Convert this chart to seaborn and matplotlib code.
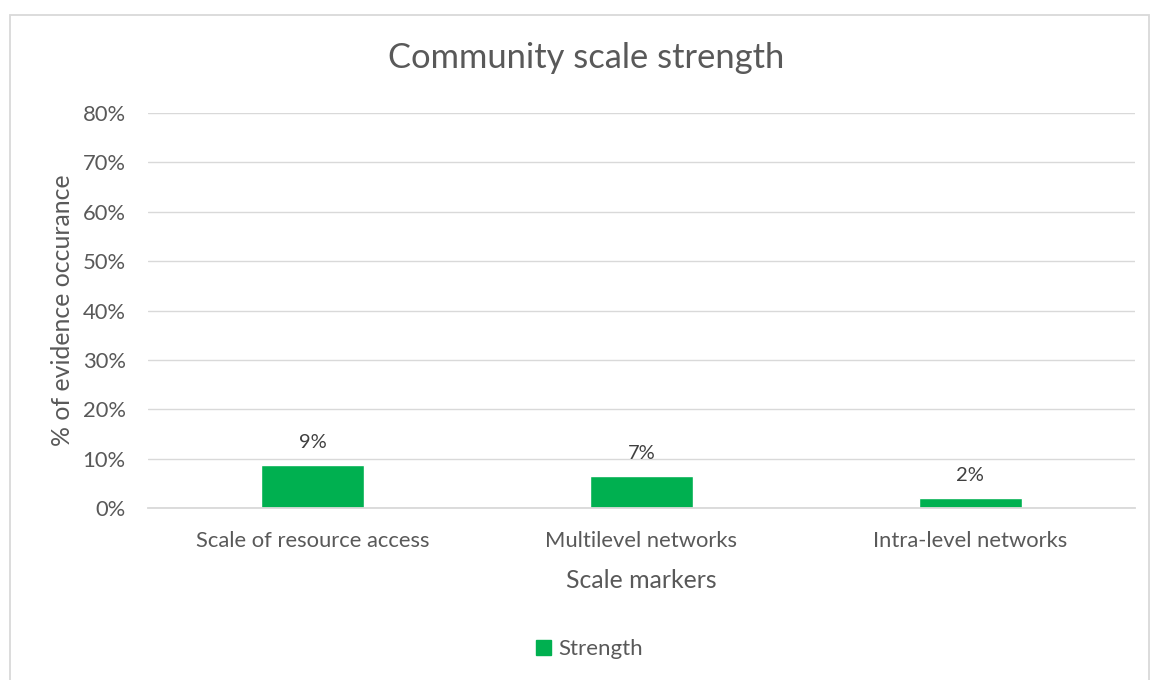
import matplotlib.pyplot as plt
import seaborn as sns
import pandas as pd
from matplotlib.patches import Rectangle
from matplotlib.ticker import PercentFormatter

# data
markers = ['Scale of resource access', 'Multilevel networks', 'Intra-level networks']
strength = [0.088, 0.066, 0.021]
series_name = 'Strength'

df = pd.DataFrame({'Marker': markers, 'Value': strength, 'Series': series_name})

sns.set_theme(style="white")
plt.rcParams['font.family'] = ['Lato', 'DejaVu Sans']

grey_text = '#595959'
grid_col = '#d9d9d9'
green = '#00b050'

fig = plt.figure(figsize=(11.51, 6.8), dpi=100)
ax = fig.add_axes([0.1286, 0.2525, 0.8574, 0.5813])

sns.barplot(data=df, x='Marker', y='Value', hue='Series', palette=[green],
            width=0.313, saturation=1, ax=ax, legend=False)

ax.set_ylim(0, 0.8)
ax.set_yticks([i / 10 for i in range(9)])
ax.yaxis.set_major_formatter(PercentFormatter(1.0, decimals=0))
ax.yaxis.grid(True, color=grid_col, lw=1)
ax.set_axisbelow(True)
for s in ['top', 'right', 'left']:
    ax.spines[s].set_visible(False)
ax.spines['bottom'].set_color(grid_col)
ax.spines['bottom'].set_linewidth(1.3)
ax.tick_params(axis='both', length=0, labelsize=15.8, colors=grey_text)
ax.tick_params(axis='y', pad=16)
ax.tick_params(axis='x', pad=16)

ax.set_xlabel('Scale markers', fontsize=17.9, color=grey_text, labelpad=13)
ax.set_ylabel('% of evidence occurance', fontsize=17.9, color=grey_text, labelpad=6)
fig.text(0.509, 0.915, 'Community scale strength', fontsize=24.8, color=grey_text,
         ha='center', va='center')

for c in ax.containers:
    ax.bar_label(c, fmt=lambda v: f"{v:.0%}", padding=10, fontsize=14.5, color='#404040')

handle = Rectangle((0, 0), 1, 1, color=green)
fig.legend([handle], [series_name], loc='center', bbox_to_anchor=(0.512, 0.045),
           frameon=False, fontsize=16, handlelength=0.7, handleheight=0.7,
           handletextpad=0.3, labelcolor=grey_text)

# outer chart border like the spreadsheet chart area
fig.patches.append(Rectangle((9.5 / 1151, -0.05), (1149 - 9.5) / 1151, 1 - 14.7 / 680 + 0.05,
                             transform=fig.transFigure, fill=False, edgecolor=grid_col, lw=1.3))

fig.savefig('out.png', dpi=100)
